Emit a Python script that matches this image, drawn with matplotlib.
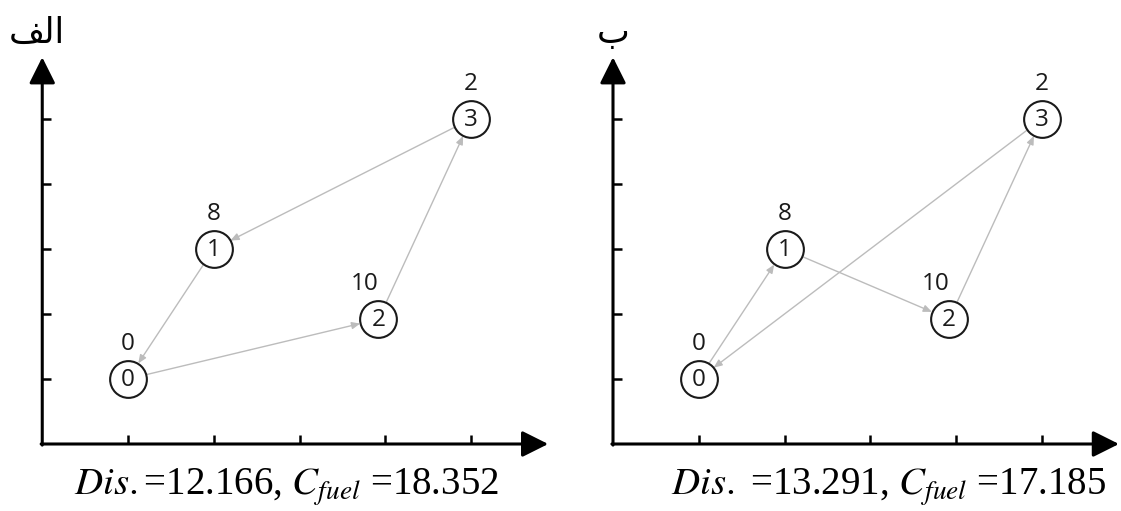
import matplotlib.pyplot as plt

plt.rcParams['mathtext.fontset'] = 'stix'

# node positions on the 1..5 grid (same instance in both panels)
node_x = [1, 2, 3.92, 5]
node_y = [1, 3, 1.92, 5]
node_ids = ['0', '1', '2', '3']
demand = ['0', '8', '10', '2']

# visiting order of each solution
route_a = [0, 2, 3, 1, 0]
route_b = [0, 1, 2, 3, 0]

ticks = [1, 2, 3, 4, 5]

titles = ['\uFED2\uFEDF\uFE8D', '\u0628']   # "الف" written in shaped (visual) form, "ب"
captions = [r'$Dis.$=12.166, $C_{fuel}$ =18.352',
            r'$Dis.$ =13.291, $C_{fuel}$ =17.185']
routes = [route_a, route_b]

W, H = 1121, 511
fig = plt.figure(figsize=(W / 100, H / 100), dpi=100)

sx, sy = 85.75, 65.0          # pixels per grid unit
origins = [(42.25, 444), (613, 444)]
xlim = (-0.45, 6.05)
ylim = (-1.0, 6.8)

for k in range(2):
    ox, oy = origins[k]
    left = (ox + xlim[0] * sx) / W
    bottom = (H - oy + ylim[0] * sy) / H
    ax = fig.add_axes([left, bottom, (xlim[1] - xlim[0]) * sx / W,
                       (ylim[1] - ylim[0]) * sy / H])
    ax.set_xlim(xlim)
    ax.set_ylim(ylim)
    for s in ax.spines.values():
        s.set_visible(False)
    ax.spines['left'].set_position(('data', 0))
    ax.spines['bottom'].set_position(('data', 0))
    ax.set_xticks(ticks)
    ax.set_yticks(ticks)
    ax.set_xticklabels([])
    ax.set_yticklabels([])
    ax.tick_params(direction='in', length=6.5, width=1.8, color='black')

    # axes with arrow heads
    ap = dict(arrowstyle='-|>,head_length=1.0,head_width=0.5', mutation_scale=16,
              lw=2.2, color='black', shrinkA=0, shrinkB=0)
    ax.annotate('', xy=(5.9, 0), xytext=(-0.013, 0), arrowprops=ap)
    ax.annotate('', xy=(0, 5.95), xytext=(0, -0.017), arrowprops=ap)

    # route edges
    r = routes[k]
    for a, b in zip(r[:-1], r[1:]):
        ax.annotate('', xy=(node_x[b], node_y[b]), xytext=(node_x[a], node_y[a]),
                    arrowprops=dict(arrowstyle='-|>,head_length=0.7,head_width=0.3',
                                    mutation_scale=7, lw=1.0, color='#bcbcbc',
                                    shrinkA=13.5, shrinkB=13.5), zorder=2)

    ax.scatter(node_x, node_y, s=700, facecolor='white', edgecolor='#1a1a1a',
               linewidth=1.5, zorder=3)
    for i in range(len(node_x)):
        ax.text(node_x[i], node_y[i] - 0.02, node_ids[i], ha='center', va='center',
                fontsize=17.5, family='Open Sans', color='#1a1a1a', zorder=4)
        dx = -10 if len(demand[i]) > 1 else 0
        ax.annotate(demand[i], (node_x[i], node_y[i]), xytext=(dx, 25),
                    textcoords='offset points', ha='center', va='center',
                    fontsize=17.5, family='Open Sans', color='#1a1a1a')

    ax.text(-0.06 if k == 0 else 0.0, 6.32, titles[k], ha='center', va='center',
            fontsize=25, family='DejaVu Sans', clip_on=False)
    cx = 2.85 if k == 0 else 3.21
    ax.text(cx, -0.78, captions[k], ha='center', va='baseline', fontsize=28,
            family='Liberation Serif', color='black', clip_on=False)

fig.savefig('out.png', dpi=100)
